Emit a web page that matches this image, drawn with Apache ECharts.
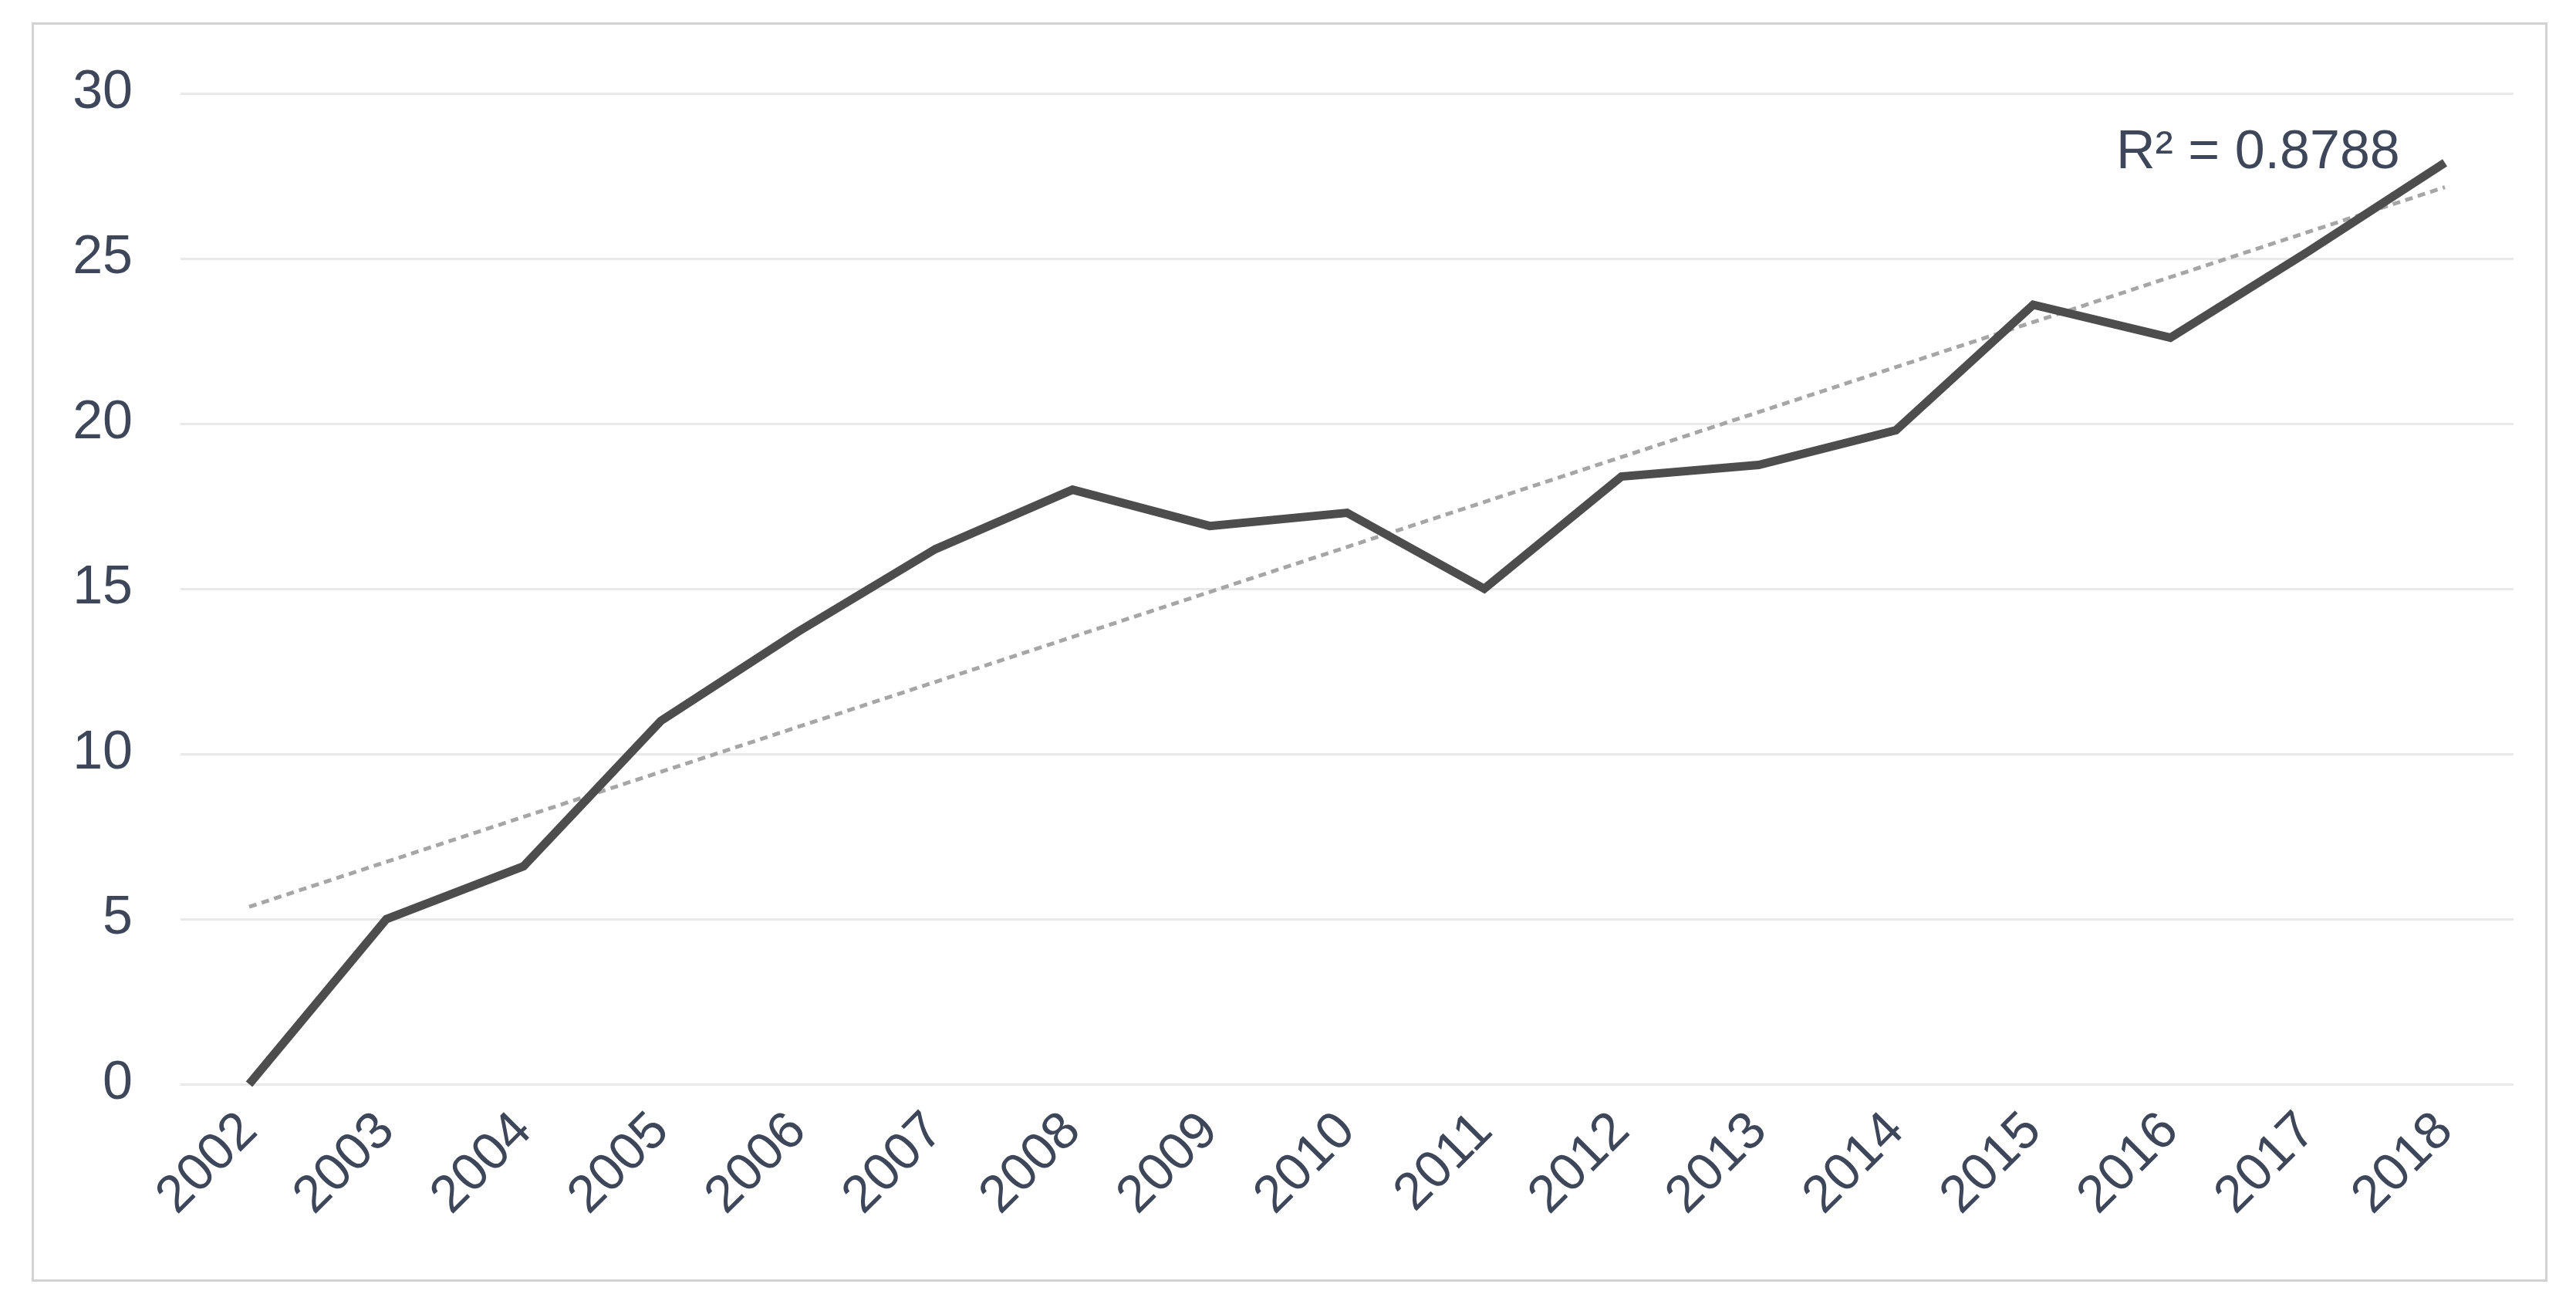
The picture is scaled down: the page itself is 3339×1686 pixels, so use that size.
<!DOCTYPE html>
<html>
<head>
<meta charset="utf-8">
<script src="https://cdn.jsdelivr.net/npm/echarts@6/dist/echarts.min.js"></script>
<style>
html,body{margin:0;padding:0;background:#fff;}
#chart{width:3339px;height:1686px;}
</style>
</head>
<body>
<div id="chart"></div>
<script>
const years = ['2002','2003','2004','2005','2006','2007','2008','2009','2010','2011','2012','2013','2014','2015','2016','2017','2018'];
const values = [0, 5.0, 6.6, 11.0, 13.7, 16.2, 18.0, 16.9, 17.3, 15.0, 18.4, 18.75, 19.8, 23.6, 22.6, 25.2, 27.9];
const trendEnds = [5.37, 27.16];
const yTicks = [0, 5, 10, 15, 20, 25, 30];
const r2Label = 'R² = 0.8788';

const chart = echarts.init(document.getElementById('chart'));
const textColor = '#3d4759';
chart.setOption({
  animation: false,
  backgroundColor: '#ffffff',
  grid: {left: 234, right: 81, top: 121, bottom: 281, containLabel: false},
  xAxis: {
    type: 'category',
    data: years,
    boundaryGap: true,
    axisLine: {show: false},
    axisTick: {show: false},
    axisLabel: {rotate: 45, margin: 50, color: textColor, fontSize: 68, fontFamily: 'Liberation Sans, Arial, sans-serif'}
  },
  yAxis: {
    type: 'value',
    min: yTicks[0],
    max: yTicks[yTicks.length - 1],
    interval: 5,
    axisLine: {show: false},
    axisTick: {show: false},
    axisLabel: {margin: 62, color: textColor, fontSize: 70, fontFamily: 'Liberation Sans, Arial, sans-serif'},
    splitLine: {lineStyle: {color: '#e9e9e9', width: 3}}
  },
  series: [
    {
      type: 'line',
      data: [[years[0], trendEnds[0]], [years[years.length - 1], trendEnds[1]]],
      symbol: 'none',
      lineStyle: {color: '#a6a6a6', width: 5, type: [10, 7]},
      z: 2
    },
    {
      type: 'line',
      data: values,
      symbol: 'none',
      lineStyle: {color: '#4d4d4d', width: 11, join: 'miter'},
      z: 3
    }
  ],
  graphic: [
    {type: 'rect', left: 40, top: 28, shape: {width: 3258, height: 1629}, style: {fill: 'none', stroke: '#d2d2d2', lineWidth: 3}, silent: true},
    {type: 'text', left: 2743, top: 164, style: {text: r2Label, fill: textColor, font: '70px "Liberation Sans", Arial, sans-serif'}}
  ]
});
</script>
</body>
</html>
